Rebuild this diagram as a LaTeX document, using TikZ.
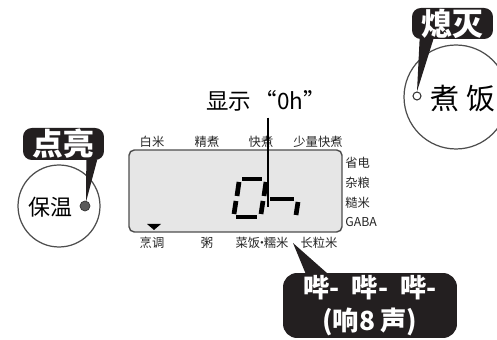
\documentclass[tikz,border=0pt]{standalone}
\usepackage{fontspec}
\setmainfont{Noto Sans CJK SC}
\usetikzlibrary{calc}

\definecolor{inkblack}{HTML}{231F20}
\definecolor{lcdgray}{HTML}{E6E6E6}
\definecolor{rimgray}{HTML}{4D4D4D}

\tikzset{
  callout/.style={fill=inkblack, text=white, rounded corners=5pt, inner sep=0pt,
    font=\fontsize{17.5}{19}\selectfont\bfseries},
  dial/.style={circle, draw=rimgray, line width=0.7pt, fill=white, inner sep=0pt},
  lcdlabel/.style={font=\fontsize{7}{8}\selectfont, text=black!85, inner sep=0pt},
  seg/.style={line width=2.7pt, line cap=butt},
}

\begin{document}
\begin{tikzpicture}[x=0.02cm, y=-0.02cm]
    \clip (0,0) rectangle (497,340);

    % display window
    \node[draw=rimgray, fill=lcdgray, rounded corners=3pt, line width=0.8pt,
      minimum width=4.26cm, minimum height=1.64cm, inner sep=0pt] (lcd) at (235.5,191) {};

    \node[lcdlabel] (baimi)     at (152,142) {白米};
    \node[lcdlabel] (jingzhu)   at (207,142) {精煮};
    \node[lcdlabel] (kuaizhu)   at (261,142) {快煮};
    \node[lcdlabel] (shaoliang) at (318,142) {少量快煮};

    \node[lcdlabel, anchor=west] (shengdian) at (345,163) {省电};
    \node[lcdlabel, anchor=west] (zaliang)   at (345,183) {杂粮};
    \node[lcdlabel, anchor=west] (caomi)     at (345,203) {糙米};
    \node[lcdlabel, anchor=west] (gaba)      at (345,222) {GABA};

    \node[lcdlabel] (pengtiao)  at (152,243) {烹调};
    \node[lcdlabel] (zhou)      at (207,243) {粥};
    \node[lcdlabel] (caifan)    at (262,243) {菜饭\kern-2.5pt·\kern-2.5pt糯米};
    \node[lcdlabel] (changli)   at (319,243) {长粒米};

    \fill (147,224) -- (161,224) -- (154,230) -- cycle;

    % digits 0h
    \draw[seg] (242,179) -- (262,179);
    \draw[seg] (239,182) -- (237,196);
    \draw[seg] (236,201) -- (234,214);
    \draw[seg] (236,217) -- (257,217);
    \draw[seg] (263,201) -- (261,214);
    \draw[seg] (266,182) -- (264,196);
    \draw[seg] (270,199) -- (294,199);
    \draw[seg] (298,202) -- (296,215);

    \node[font=\fontsize{12.8}{14}\selectfont] (showtitle) at (266,101)
      {显示\hspace{2pt}“0h”};
    \coordinate (digittop) at (268,207);
    \draw[line width=1.1pt] (showtitle.south -| digittop) -- (digittop);

    % warm dial
    \node[dial, minimum size=1.64cm] (warmdial) at (59,206) {};
    \node[font=\fontsize{12.5}{14}\selectfont] (warmtext) at (50,207) {保温};
    \node[callout, minimum width=1.62cm, minimum height=0.64cm] (onnote) at (63.5,144) {点亮};
    \fill[inkblack] ($(onnote.south east)+(-18,-1)$) -- ($(onnote.south east)+(-7,-1)$)
      -- ($(warmdial.center)+(27,-4)$) -- cycle;
    \node[circle, fill=black!65, draw=black!80, minimum size=0.2cm, inner sep=0pt] (warmdot) at (85,206) {};

    % cook dial
    \node[dial, minimum size=2.08cm] (cookdial) at (456,97) {};
    \node[font=\fontsize{16.5}{18}\selectfont] (cooktext) at (463,99) {煮\hspace{4pt}饭};
    \node[callout, minimum width=1.62cm, minimum height=0.62cm] (offnote) at (452.5,23.5) {熄灭};
    \node[circle, draw=black!80, fill=white, line width=0.6pt, minimum size=0.16cm,
      inner sep=0pt] (cookdot) at (417,96) {};
    \fill[inkblack] ($(offnote.south west)+(8,-1)$) -- ($(offnote.south west)+(22,-1)$)
      -- (cookdot.north) -- cycle;

    % beep note
    \coordinate (beeptip) at (293,243);
    \node[callout, rounded corners=8pt, minimum width=3.48cm, minimum height=1.3cm,
      align=center, font=\fontsize{15}{18.5}\selectfont\bfseries] (beepnote) at (370,305.5)
      {哔-\hspace{7pt}哔-\hspace{7pt}哔-\\(响8\hspace{3pt}声)};
    \fill[inkblack] ($(beepnote.north west)+(23,1)$) -- ($(beepnote.north west)+(45,1)$)
      -- (beeptip) -- cycle;
\end{tikzpicture}
\end{document}
